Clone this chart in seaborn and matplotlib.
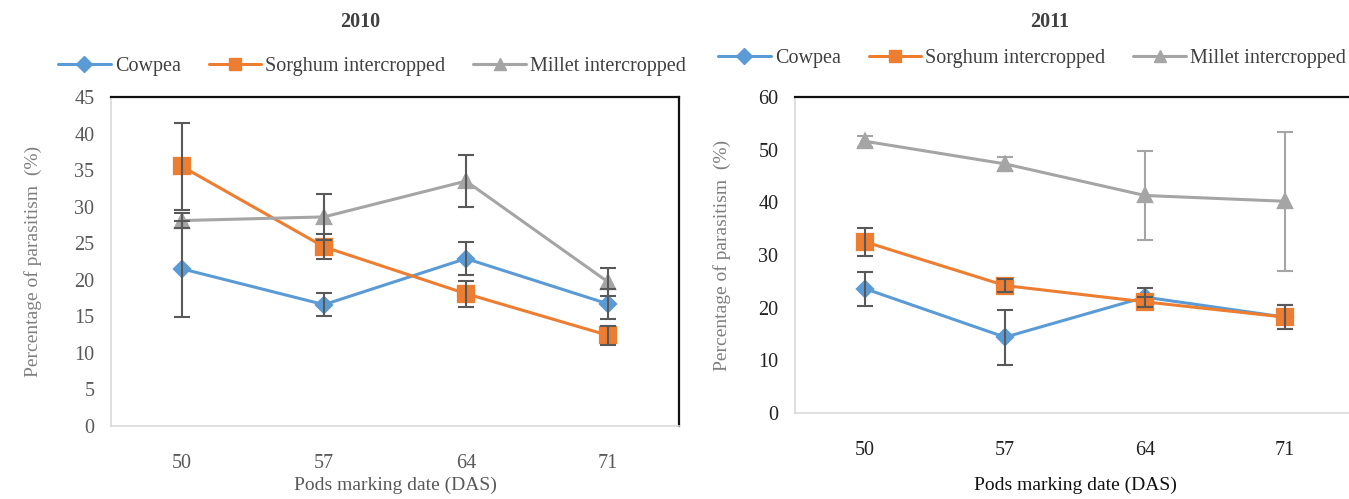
import numpy as np
import pandas as pd
import matplotlib
matplotlib.use('Agg')
import matplotlib.pyplot as plt
import seaborn as sns
from matplotlib.lines import Line2D

days = ['50', '57', '64', '71']
series = ['Cowpea', 'Sorghum intercropped', 'Millet intercropped']

# 2010 means and error half-widths
cowpea_2010 = [21.5, 16.6, 22.9, 16.7]
sorghum_2010 = [35.5, 24.5, 18.1, 12.4]
millet_2010 = [28.1, 28.6, 33.5, 19.7]
cowpea_2010_err = [6.6, 1.6, 2.2, 2.0]
sorghum_2010_err = [5.9, 1.7, 1.8, 1.3]
millet_2010_err = [1.0, 3.1, 3.6, 1.9]

# 2011 means and error half-widths
cowpea_2011 = [23.6, 14.4, 22.0, 18.2]
sorghum_2011 = [32.5, 24.2, 21.1, 18.2]
millet_2011 = [51.6, 47.3, 41.3, 40.2]
cowpea_2011_err = [3.2, 5.2, 1.8, 2.3]
sorghum_2011_err = [2.7, 1.2, 1.0, 2.3]
millet_2011_err = [1.0, 1.3, 8.4, 13.2]

colors = ['#5B9BD5', '#ED7D31', '#A5A5A5']
markers = ['D', 's', '^']
msizes = [8, 11, 10]

sns.set_theme(style='white')
plt.rcParams['font.family'] = ['Liberation Serif', 'DejaVu Serif']

W, H = 1349, 499
fig = plt.figure(figsize=(W / 100, H / 100), dpi=100)


def px_axes(x0, y0, x1, y1):
    return fig.add_axes([x0 / W, 1 - y1 / H, (x1 - x0) / W, (y1 - y0) / H])


def draw_panel(ax, vals, errs, ymax, ystep, tick_color, xlabel_color, err_colors, xlabel_pad):
    df = pd.DataFrame({
        'Day': days * 3,
        'Value': vals[0] + vals[1] + vals[2],
        'Series': [s for s in series for _ in days],
    })
    sns.pointplot(data=df, x='Day', y='Value', hue='Series', hue_order=series,
                  order=days, palette=colors, markers=markers, linestyles='-',
                  errorbar=None, ax=ax, legend=False, linewidth=2.2, markersize=9)
    # per-series marker sizes
    for line, ms in zip(ax.lines, msizes):
        line.set_markersize(ms)
    pos = np.arange(len(days))
    for v, e, ec in zip(vals, errs, err_colors):
        ax.errorbar(pos, v, yerr=e, fmt='none', ecolor=ec, elinewidth=1.5,
                    capsize=6, capthick=1.5, zorder=4)
    ax.set_ylim(0, ymax)
    ax.set_yticks(np.arange(0, ymax + 1, ystep))
    ax.set_xlim(-0.5, 3.5)
    ax.tick_params(axis='both', length=0, labelsize=14.5, colors=tick_color)
    ax.tick_params(axis='y', pad=12)
    ax.tick_params(axis='x', pad=20)
    for s in ['left', 'bottom']:
        ax.spines[s].set_color('#D9D9D9')
        ax.spines[s].set_linewidth(1.2)
    for s in ['top', 'right']:
        ax.spines[s].set_color('#111111')
        ax.spines[s].set_linewidth(1.6)
    ax.set_ylabel('Percentage of parasitism  (%)', fontsize=14, color='#7F7F7F')
    ax.set_xlabel('Pods marking date (DAS)', fontsize=14, color=xlabel_color,
                  labelpad=xlabel_pad)


ax1 = px_axes(111, 97, 679, 426)
draw_panel(ax1, [cowpea_2010, sorghum_2010, millet_2010],
           [cowpea_2010_err, sorghum_2010_err, millet_2010_err],
           45, 5, '#595959', '#595959', ['#595959'] * 3, 3)
ax1.yaxis.set_label_coords(-0.122, 0.5)

ax2 = px_axes(795, 97, 1355, 413)
draw_panel(ax2, [cowpea_2011, sorghum_2011, millet_2011],
           [cowpea_2011_err, sorghum_2011_err, millet_2011_err],
           60, 10, '#222222', '#111111', ['#595959', '#595959', '#A5A5A5'], 12)
ax2.yaxis.set_label_coords(-0.115, 0.5)

fig.text(360 / W, 1 - 22 / H, '2010', ha='center', va='center', fontsize=14.5,
         fontweight='bold', color='#404040')
fig.text(1050 / W, 1 - 22 / H, '2011', ha='center', va='center', fontsize=14.5,
         fontweight='bold', color='#404040')

handles = [Line2D([0], [0], color=c, marker=m, markersize=8, linewidth=2.2)
           for c, m in zip(colors, markers)]
for cx, cy in [(372, 66), (1032, 58)]:
    fig.legend(handles, series, loc='center', bbox_to_anchor=(cx / W, 1 - cy / H),
               ncol=3, frameon=False, fontsize=14.5, handlelength=2.6,
               handletextpad=0.2, columnspacing=1.4, labelcolor='#404040')

fig.savefig('out.png', dpi=100)
